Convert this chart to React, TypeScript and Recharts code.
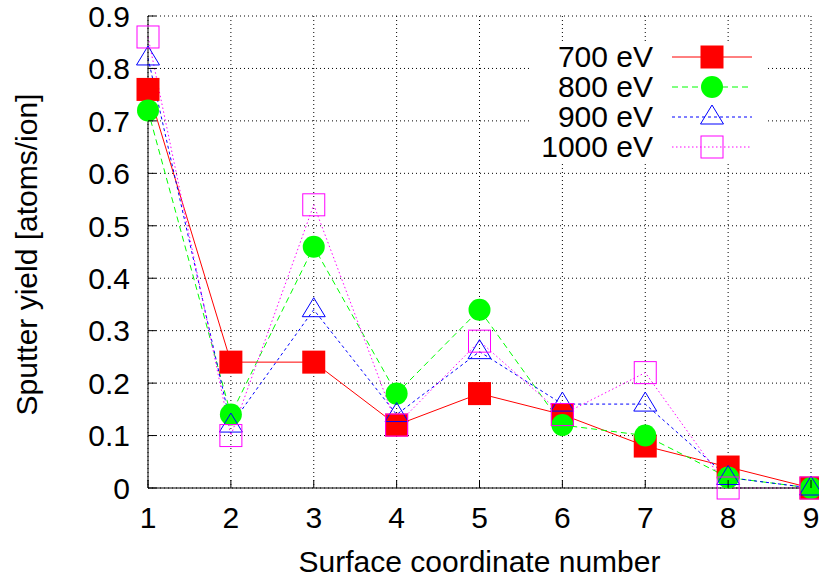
import React from 'react'
import { LineChart, Line, XAxis, YAxis, CartesianGrid, Label } from 'recharts'

const coords = [1, 2, 3, 4, 5, 6, 7, 8, 9]
const yTicks = [0, 0.1, 0.2, 0.3, 0.4, 0.5, 0.6, 0.7, 0.8, 0.9]

const ev700 = [0.76, 0.24, 0.24, 0.12, 0.18, 0.14, 0.08, 0.04, 0]
const ev800 = [0.72, 0.14, 0.46, 0.18, 0.34, 0.12, 0.1, 0.02, 0]
const ev900 = [0.82, 0.12, 0.34, 0.14, 0.26, 0.16, 0.16, 0.02, 0]
const ev1000 = [0.86, 0.1, 0.54, 0.12, 0.28, 0.14, 0.22, 0, 0]

const seriesNames = ['700 eV', '800 eV', '900 eV', '1000 eV']
const seriesKeys = ['e700', 'e800', 'e900', 'e1000']

const data = coords.map((x, i) => ({
  x,
  e700: ev700[i],
  e800: ev800[i],
  e900: ev900[i],
  e1000: ev1000[i],
}))

const FONT = '"Liberation Sans", Arial, Helvetica, sans-serif'
const FS = 30

type Style = { color: string; dash?: string; marker: 'fsquare' | 'circle' | 'triangle' | 'osquare' }

const styles: Style[] = [
  { color: '#ff0000', marker: 'fsquare' },
  { color: '#00ff00', dash: '6 4', marker: 'circle' },
  { color: '#0000ff', dash: '3 3', marker: 'triangle' },
  { color: '#ff00ff', dash: '1.5 2.5', marker: 'osquare' },
]

function Marker({ cx, cy, s }: { cx: number; cy: number; s: Style }) {
  switch (s.marker) {
    case 'fsquare':
      return <rect x={cx - 11.5} y={cy - 11.5} width={23} height={23} fill={s.color} />
    case 'circle':
      return <circle cx={cx} cy={cy} r={11} fill={s.color} />
    case 'triangle':
      return (
        <polygon
          points={`${cx},${cy - 12} ${cx - 11.5},${cy + 7} ${cx + 11.5},${cy + 7}`}
          fill="none"
          stroke={s.color}
          strokeWidth={1}
        />
      )
    default:
      return <rect x={cx - 11} y={cy - 11} width={22} height={22} fill="none" stroke={s.color} strokeWidth={1} />
  }
}

const fmt = (v: number) => (v === 0 ? '0' : v.toFixed(1))

// inward ticks on all four sides, labels only on left and bottom
const LeftTick = (p: any) => (
  <g>
    <line x1={p.x + 18} x2={p.x + 26} y1={p.y} y2={p.y} stroke="#000" />
    <text x={p.x} y={p.y + 10.8} textAnchor="end" fontSize={FS} fontFamily={FONT} fill="#000">
      {fmt(p.payload.value)}
    </text>
  </g>
)
const BottomTick = (p: any) => (
  <g>
    <line x1={p.x} x2={p.x} y1={p.y} y2={p.y - 8} stroke="#000" />
    <text x={p.x} y={p.y + 40} textAnchor="middle" fontSize={FS} fontFamily={FONT} fill="#000">
      {p.payload.value}
    </text>
  </g>
)
const TopTick = (p: any) => <line x1={p.x} x2={p.x} y1={p.y} y2={p.y + 8} stroke="#000" />
const RightTick = (p: any) => <line x1={p.x - 8} x2={p.x} y1={p.y} y2={p.y} stroke="#000" />

function LegendBox() {
  return (
    <div
      style={{
        position: 'absolute',
        left: 529,
        top: 42,
        width: 239,
        height: 120,
        background: '#fff',
        fontFamily: FONT,
        fontSize: FS,
        color: '#000',
      }}
    >
      {seriesNames.map((name, i) => (
        <div key={name} style={{ position: 'absolute', top: i * 30, left: 0, width: 239, height: 30 }}>
          <span style={{ position: 'absolute', right: 115, top: 0, lineHeight: '30px', whiteSpace: 'nowrap' }}>
            {name}
          </span>
          <svg width={80} height={30} style={{ position: 'absolute', left: 143, top: 0, overflow: 'visible' }}>
            <line x1={0} x2={80} y1={15} y2={15} stroke={styles[i].color} strokeDasharray={styles[i].dash} />
            <Marker cx={40} cy={15} s={styles[i]} />
          </svg>
        </div>
      ))}
    </div>
  )
}

export default function App() {
  return (
    <div style={{ position: 'absolute', left: 0, top: 0, width: 819, height: 581, background: '#fff' }}>
      <LineChart width={819} height={581} data={data} margin={{ top: 16, right: 8, bottom: 0, left: 0 }}>
        <CartesianGrid stroke="#000" strokeDasharray="1 3" strokeWidth={1} />
        <XAxis
          dataKey="x"
          type="number"
          domain={[1, 9]}
          ticks={coords}
          height={93}
          tickSize={0}
          tickMargin={0}
          tickLine={false}
          tick={BottomTick}
          axisLine={{ stroke: '#000' }}
        >
          <Label
            content={({ viewBox }: any) => (
              <text
                x={viewBox.x + viewBox.width / 2}
                y={viewBox.y + 84}
                textAnchor="middle"
                fontSize={FS}
                fontFamily={FONT}
                fill="#000"
              >
                Surface coordinate number
              </text>
            )}
          />
        </XAxis>
        <XAxis
          xAxisId="top"
          orientation="top"
          type="number"
          domain={[1, 9]}
          ticks={coords}
          height={0}
          tickSize={0}
          tickMargin={0}
          tickLine={false}
          tick={TopTick}
          axisLine={{ stroke: '#000' }}
        />
        <YAxis
          type="number"
          domain={[0, 0.9]}
          ticks={yTicks}
          width={148}
          tickSize={0}
          tickMargin={18}
          tickLine={false}
          tick={LeftTick}
          axisLine={{ stroke: '#000' }}
        >
          <Label
            content={({ viewBox }: any) => {
              const cy = viewBox.y + viewBox.height / 2 + 2.5
              return (
                <text
                  x={37}
                  y={cy}
                  transform={`rotate(-90, 37, ${cy})`}
                  textAnchor="middle"
                  fontSize={FS}
                  fontFamily={FONT}
                  fill="#000"
                >
                  Sputter yield [atoms/ion]
                </text>
              )
            }}
          />
        </YAxis>
        <YAxis
          yAxisId="right"
          orientation="right"
          type="number"
          domain={[0, 0.9]}
          ticks={yTicks}
          width={0}
          tickSize={0}
          tickMargin={0}
          tickLine={false}
          tick={RightTick}
          axisLine={{ stroke: '#000' }}
        />
        {seriesKeys.map((k, i) => (
          <Line
            key={k}
            dataKey={k}
            name={seriesNames[i]}
            type="linear"
            stroke={styles[i].color}
            strokeWidth={1}
            strokeDasharray={styles[i].dash}
            isAnimationActive={false}
            activeDot={false}
            dot={(p: any) => <Marker key={`${k}-${p.index}`} cx={p.cx} cy={p.cy} s={styles[i]} />}
          />
        ))}
      </LineChart>
      <LegendBox />
    </div>
  )
}
